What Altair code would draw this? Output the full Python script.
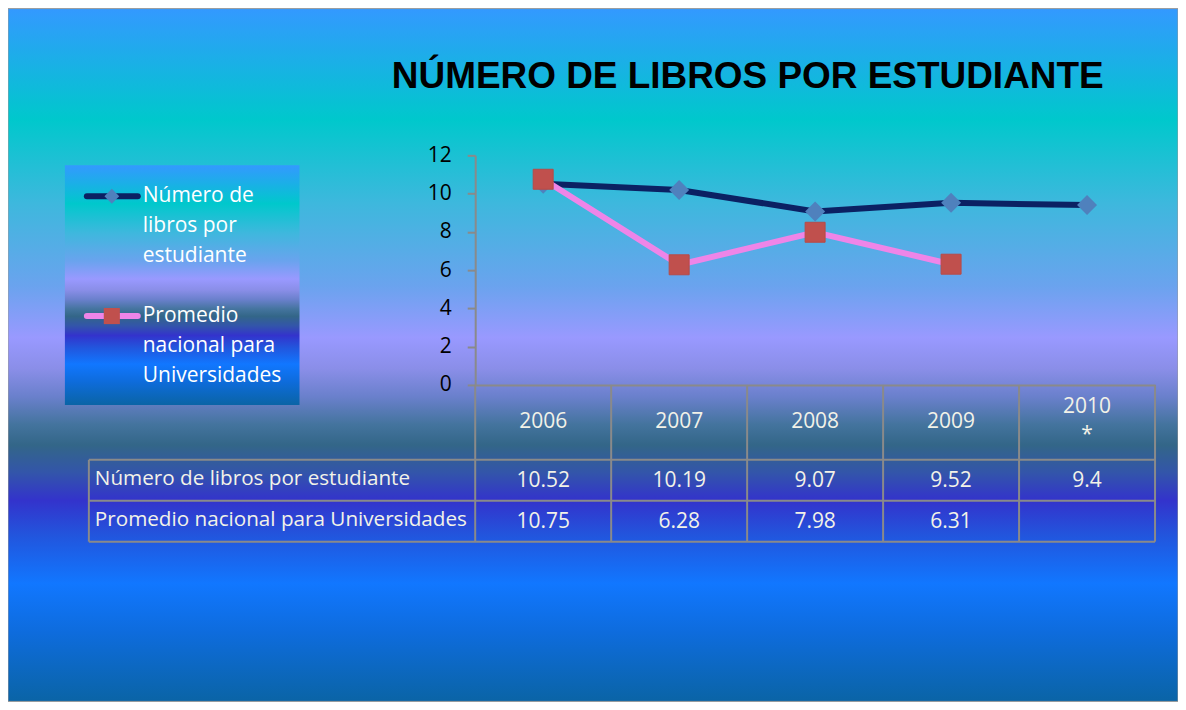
import altair as alt
import pandas as pd

# ---------------- data ----------------
years = ["2006", "2007", "2008", "2009", "2010"]
year_headers = ["2006", "2007", "2008", "2009", "2010\n*"]
libros = [10.52, 10.19, 9.07, 9.52, 9.4]
promedio = [10.75, 6.28, 7.98, 6.31, None]
series_names = ["Número de libros por estudiante", "Promedio nacional para Universidades"]
legend_labels = ["Número de\nlibros por\nestudiante", "Promedio\nnacional para\nUniversidades"]
y_ticks = [0, 2, 4, 6, 8, 10, 12]
title_text = "NÚMERO DE LIBROS POR ESTUDIANTE"

# ---------------- layout / style ----------------
W, H = 681, 230
PAD = dict(left=468, top=147, right=23, bottom=317)
FONT = "Open Sans"
TXT = "#f2f2e8"
GRID = "#8a8a8a"
NAVY = "#0b2163"
DIAMOND = "#4f81bd"
PINK = "#ee85e8"
SQUARE = "#c0504d"

grad_stops = [
    (0.00, "#3399ff"), (0.16, "#00c8cc"), (0.28, "#3db8dd"), (0.40, "#6aa3ee"),
    (0.475, "#9999ff"), (0.52, "#8a8ee8"), (0.56, "#6a80cc"), (0.60, "#44749e"),
    (0.63, "#336688"), (0.67, "#3355aa"), (0.71, "#3333cc"), (0.76, "#2255dd"),
    (0.83, "#1177ff"), (0.90, "#0e6cdd"), (1.00, "#0a64a6"),
]
grad = alt.LinearGradient(
    gradient="linear", x1=0, x2=0, y1=0, y2=1,
    stops=[alt.GradientStop(offset=o, color=c) for o, c in grad_stops],
)

rows = []
for s, vals in zip(series_names, [libros, promedio]):
    for yr, v in zip(years, vals):
        if v is not None:
            rows.append({"year": yr, "series": s, "value": v})
df = pd.DataFrame(rows)
df_years = pd.DataFrame({"year": years, "header": year_headers})
one = pd.DataFrame({"k": [0]})

x_scale = alt.Scale(type="band", domain=years, paddingInner=0, paddingOuter=0)
y_scale = alt.Scale(domain=[0, 12])
x_axis = alt.Axis(labels=False, ticks=False, title=None, grid=False,
                  domainColor=GRID, domainWidth=2, zindex=1)
y_axis = alt.Axis(values=y_ticks, title=None, grid=False, labelFontSize=21,
                  labelColor="black", labelFont=FONT, tickColor=GRID, tickWidth=2,
                  tickSize=8, domainColor=GRID, domainWidth=2, labelPadding=16, zindex=1)


def X(bp=0.5):
    return alt.X("year:N", scale=x_scale, axis=x_axis, bandPosition=bp)


# background
bg = alt.Chart(one).mark_rect(fill=grad, stroke="#9a9a9a", strokeWidth=1).encode(
    x=alt.value(-PAD["left"]), x2=alt.value(W + PAD["right"]),
    y=alt.value(-PAD["top"]), y2=alt.value(H + PAD["bottom"]),
)

# title
title = alt.Chart(one).mark_text(
    text=title_text, font="Liberation Sans", fontWeight="bold", fontSize=37,
    color="black", align="center", baseline="alphabetic",
).encode(x=alt.value(273), y=alt.value(-67))

# legend box
leg_box = alt.Chart(one).mark_rect(fill=grad).encode(
    x=alt.value(-411), x2=alt.value(-176), y=alt.value(10), y2=alt.value(250)
)
leg_line1 = alt.Chart(one).mark_rule(color=NAVY, strokeWidth=6, strokeCap="round").encode(
    x=alt.value(-389), x2=alt.value(-338), y=alt.value(41))
leg_line2 = alt.Chart(one).mark_rule(color=PINK, strokeWidth=6, strokeCap="round").encode(
    x=alt.value(-389), x2=alt.value(-338), y=alt.value(161))
leg_pt1 = alt.Chart(one).mark_point(shape="diamond", filled=True, size=220, color=DIAMOND, opacity=1).encode(
    x=alt.value(-364), y=alt.value(41))
leg_pt2 = alt.Chart(one).mark_point(shape="square", filled=True, size=260, color=SQUARE, opacity=1).encode(
    x=alt.value(-364), y=alt.value(161))
leg_df = pd.DataFrame({"label": legend_labels})
leg_txt1 = alt.Chart(leg_df.iloc[[0]]).mark_text(
    font=FONT, fontSize=21, color="white", align="left", baseline="middle",
    lineBreak="\n", lineHeight=30).encode(x=alt.value(-333), y=alt.value(41), text="label:N")
leg_txt2 = alt.Chart(leg_df.iloc[[1]]).mark_text(
    font=FONT, fontSize=21, color="white", align="left", baseline="middle",
    lineBreak="\n", lineHeight=30).encode(x=alt.value(-333), y=alt.value(161), text="label:N")

# lines
d1 = alt.Chart(df).transform_filter(alt.datum.series == series_names[0])
d2 = alt.Chart(df).transform_filter(alt.datum.series == series_names[1])
yenc = alt.Y("value:Q", scale=y_scale, axis=y_axis)
line1 = d1.mark_line(color=NAVY, strokeWidth=6).encode(x=X(), y=yenc)
pts1 = d1.mark_point(shape="diamond", filled=True, size=400, color=DIAMOND, opacity=1).encode(x=X(), y=yenc)
line2 = d2.mark_line(color=PINK, strokeWidth=6).encode(x=X(), y=yenc)
pts2 = d2.mark_point(shape="square", filled=True, size=400, color=SQUARE, opacity=1,
                     stroke="#b84a47", strokeWidth=1).encode(x=X(), y=yenc)

# table
ROW_TOP, ROW1, ROW2 = 305, 346, 387
LEFT = -387


def hrule(yv):
    return alt.Chart(one).mark_rule(color=GRID, strokeWidth=2).encode(
        x=alt.value(LEFT), x2=alt.value(W), y=alt.value(yv))


vrules = alt.Chart(df_years).mark_rule(color=GRID, strokeWidth=2).encode(
    x=X(0), y=alt.value(H), y2=alt.value(ROW2))
vrule_end = alt.Chart(df_years.iloc[[-1]]).mark_rule(color=GRID, strokeWidth=2).encode(
    x=X(1), y=alt.value(H), y2=alt.value(ROW2))
vrule_left = alt.Chart(one).mark_rule(color=GRID, strokeWidth=2).encode(
    x=alt.value(LEFT), y=alt.value(ROW_TOP), y2=alt.value(ROW2))

hdr_base = alt.Chart(df_years).mark_text(
    font=FONT, fontSize=21, color=TXT, align="center", baseline="middle",
    lineBreak="\n", lineHeight=28)
hdr1 = hdr_base.transform_filter("indexof(datum.header, '\\n') < 0").encode(
    x=X(), y=alt.value(267), text="header:N")
hdr2 = hdr_base.transform_filter("indexof(datum.header, '\\n') >= 0").encode(
    x=X(), y=alt.value(252), text="header:N")
vals1 = d1.mark_text(font=FONT, fontSize=21, color=TXT, align="center", baseline="middle").encode(
    x=X(), y=alt.value(326), text="value:N")
vals2 = d2.mark_text(font=FONT, fontSize=21, color=TXT, align="center", baseline="middle").encode(
    x=X(), y=alt.value(367), text="value:N")
lab_df = pd.DataFrame({"name": series_names})
labs1 = alt.Chart(lab_df.iloc[[0]]).mark_text(
    font=FONT, fontSize=20.7, color=TXT, align="left", baseline="middle").encode(
    x=alt.value(-381), y=alt.value(324), text="name:N")
labs2 = alt.Chart(lab_df.iloc[[1]]).mark_text(
    font=FONT, fontSize=20.7, color=TXT, align="left", baseline="middle").encode(
    x=alt.value(-381), y=alt.value(365), text="name:N")

chart = alt.layer(
    bg, title, leg_box, leg_line1, leg_line2, leg_pt1, leg_pt2, leg_txt1, leg_txt2,
    hrule(ROW_TOP), hrule(ROW1), hrule(ROW2), vrules, vrule_end, vrule_left,
    hdr1, hdr2, vals1, vals2, labs1, labs2,
    line1, pts1, line2, pts2,
).properties(
    width=W, height=H,
    autosize=alt.AutoSizeParams(type="none"),
    padding=PAD,
    background="white",
).configure_view(stroke=None)

chart.save("out.html", embed_options={"renderer": "svg", "actions": False})
